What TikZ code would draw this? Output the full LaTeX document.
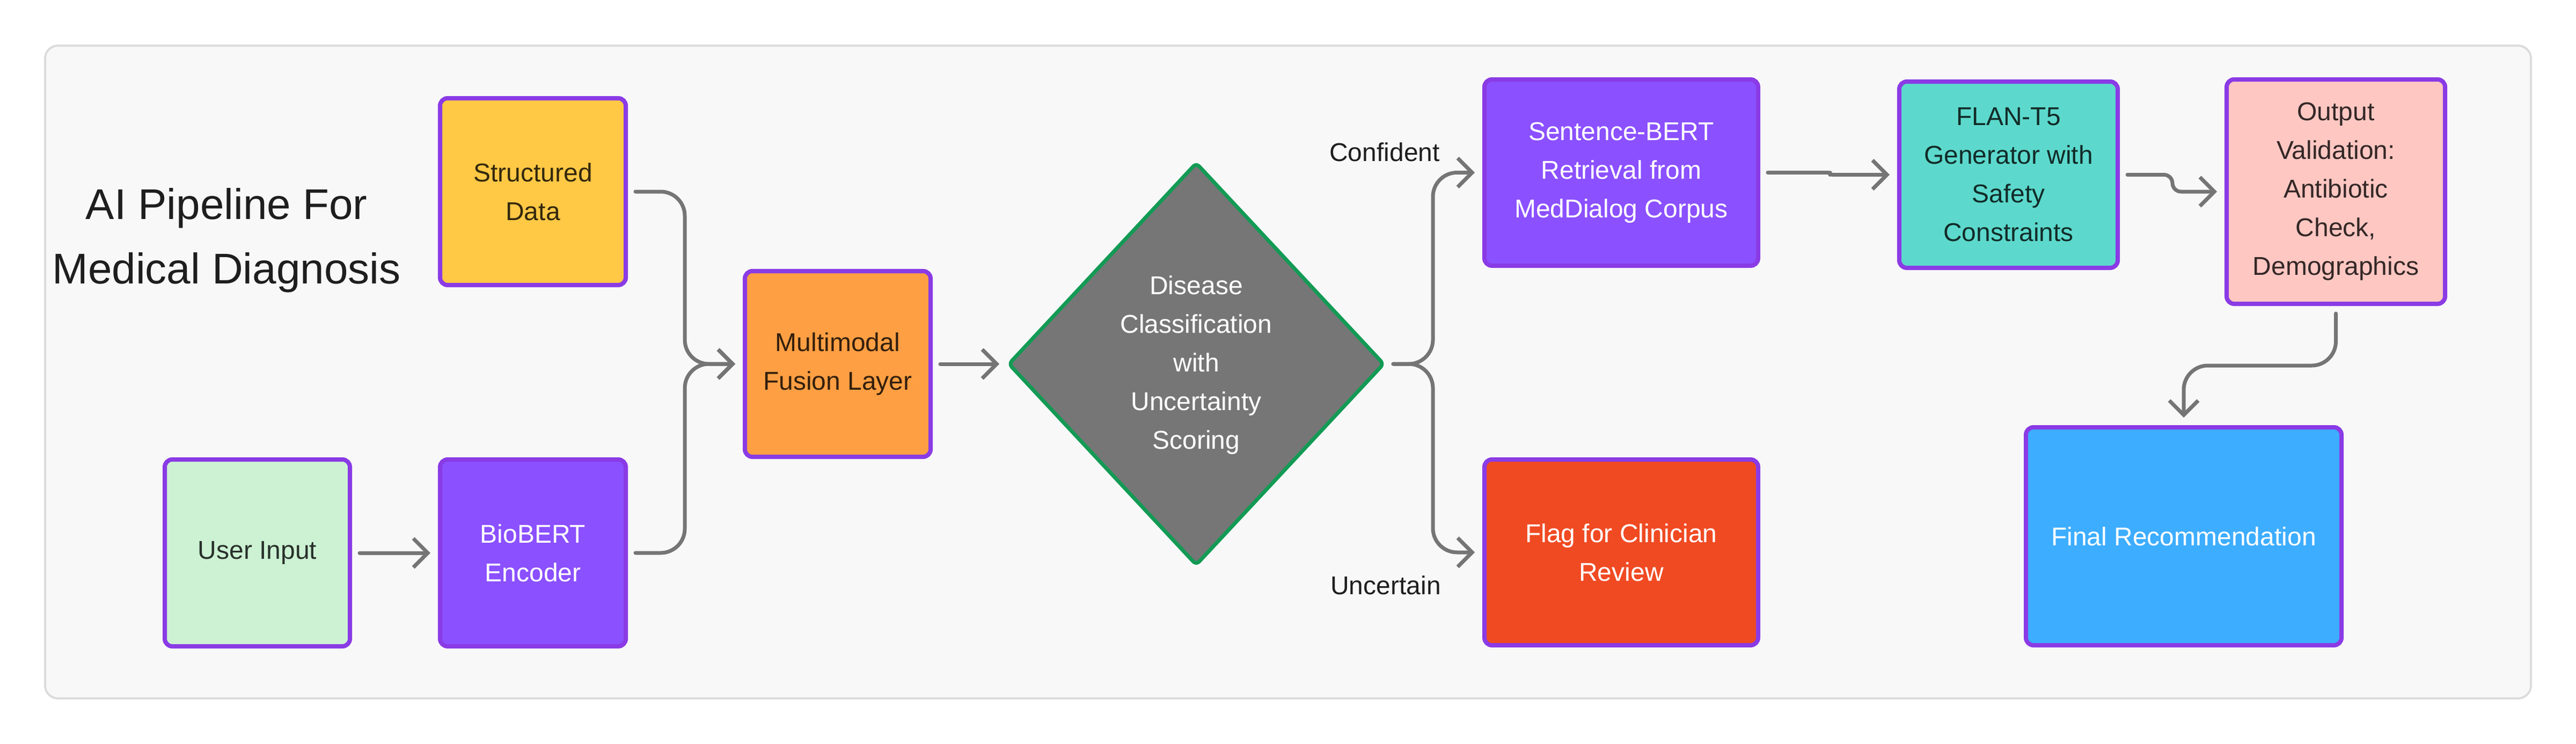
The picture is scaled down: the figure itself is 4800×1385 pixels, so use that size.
\documentclass[tikz,border=0pt]{standalone}
\usepackage{fontspec}
\setmainfont{Liberation Sans}
\usetikzlibrary{arrows.meta,calc}
\definecolor{bord}{HTML}{8A3BE5}
\definecolor{connc}{HTML}{757575}
\definecolor{bgfill}{HTML}{F8F8F8}
\definecolor{bgline}{HTML}{DCDCDC}
\definecolor{cyellow}{HTML}{FFC845}
\definecolor{corange}{HTML}{FF9F43}
\definecolor{cmint}{HTML}{CCF2D3}
\definecolor{cpurple}{HTML}{8B50FF}
\definecolor{cteal}{HTML}{5CD9CC}
\definecolor{cpink}{HTML}{FFC7C2}
\definecolor{cred}{HTML}{F04A23}
\definecolor{cblue}{HTML}{3DADFF}
\definecolor{dgray}{HTML}{767676}
\definecolor{dgreen}{HTML}{139A55}
\definecolor{titlec}{HTML}{1E1E1E}
\begin{document}
\begin{tikzpicture}[x=1pt,y=-1pt,
  box/.style={draw=bord, line width=8pt, rounded corners=14pt, align=center,
    font=\fontsize{48}{72}\selectfont, text=black, text opacity=0.8, inner sep=0pt},
  wbox/.style={box, text=white, text opacity=1},
  lbl/.style={font=\fontsize{48}{72}\selectfont, text=titlec, inner sep=0pt},
  conn/.style={draw=connc, line width=7pt, line cap=round, line join=round,
    rounded corners=45pt, -{Straight Barb[length=27pt,width=54pt]},
    shorten <=14pt, shorten >=14pt},
]
\useasboundingbox (0,0) rectangle (4800,1385);
% background panel
\path[draw=bgline, fill=bgfill, line width=4pt, rounded corners=24pt] (84,85) rectangle (4716,1301);

% title
\node[font=\fontsize{80}{120}\selectfont, text=titlec, align=center, inner sep=0pt] (title) at (422,448)
  {AI Pipeline For\\Medical Diagnosis};

% boxes
\node[box, fill=cyellow, minimum width=346pt, minimum height=348pt] (sd) at (993,357) {Structured\\Data};
\node[box, fill=cmint, minimum width=345pt, minimum height=348pt] (ui) at (479.5,1030) {User Input};
\node[wbox, fill=cpurple, minimum width=346pt, minimum height=348pt] (bb) at (993,1030) {BioBERT\\Encoder};
\node[box, fill=corange, minimum width=346pt, minimum height=346pt] (fu) at (1561,678) {Multimodal\\Fusion Layer};
\node[wbox, fill=cpurple, minimum width=510pt, minimum height=347pt] (sb) at (3021,321.5) {Sentence-BERT\\Retrieval from\\MedDialog Corpus};
\node[wbox, fill=cred, minimum width=510pt, minimum height=346pt] (fl) at (3021,1029) {Flag for Clinician\\Review};
\node[box, fill=cteal, minimum width=407pt, minimum height=347pt] (ft) at (3742.5,325.5) {FLAN-T5\\Generator with\\Safety\\Constraints};
\node[box, fill=cpink, minimum width=407pt, minimum height=418pt] (ov) at (4352.5,357) {Output\\Validation:\\Antibiotic\\Check,\\Demographics};
\node[wbox, fill=cblue, minimum width=588pt, minimum height=406pt] (fr) at (4069,999) {Final Recommendation};

% decision diamond
\path[draw=dgreen, fill=dgray, line width=7pt, rounded corners=8pt, line join=round]
  (2229,304) -- (2578,678) -- (2229,1052) -- (1880,678) -- cycle;
\node[font=\fontsize{48}{72}\selectfont, text=white, align=center, inner sep=0pt] (dia) at (2229,680)
  {Disease\\Classification\\with\\Uncertainty\\Scoring};
\coordinate (dL) at (1876,678);
\coordinate (dR) at (2582,678);

% branch labels
\node[lbl] (conf) at (2580,283) {Confident};
\node[lbl] (unc) at (2582,1090) {Uncertain};

% connectors
\draw[conn] (ui.east) -- (bb.west);
\draw[conn] (sd.east) -- ++(106,0) |- (fu.west);
\draw[conn] (bb.east) -- ++(106,0) |- (fu.west);
\draw[conn] (fu.east) -- (dL);
\draw[conn] (dR) -- ++(88,0) |- (sb.west);
\draw[conn] (dR) -- ++(88,0) |- (fl.west);
\draw[conn, rounded corners=4pt] (sb.east) -- ++(130,0) |- (ft.west);
\draw[conn, rounded corners=16pt] (ft.east) -- ++(98,0) |- (ov.west);
\draw[conn] (ov.south) -- ++(0,111) -| (fr.north);
\end{tikzpicture}
\end{document}
